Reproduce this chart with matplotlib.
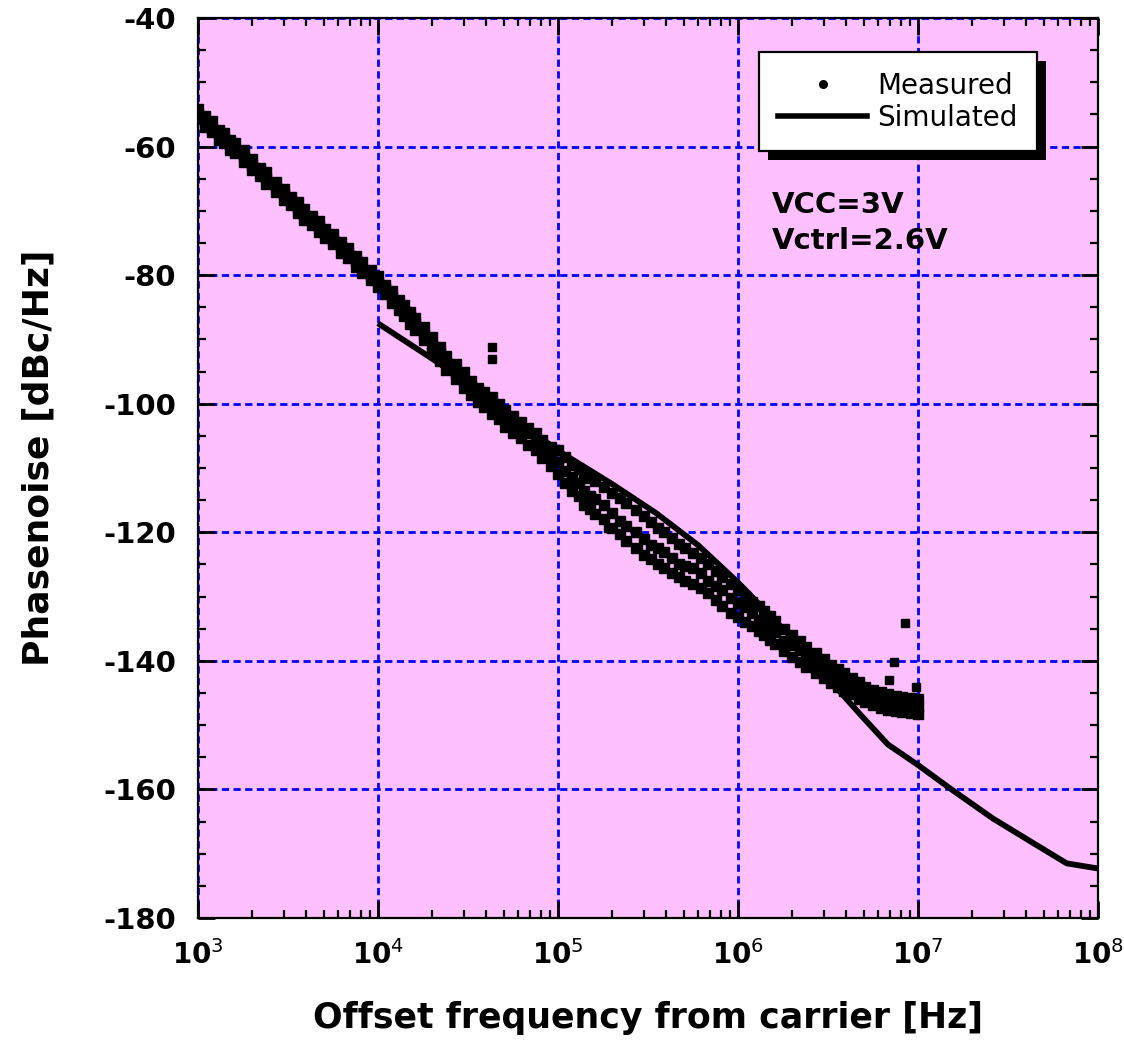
import math
import matplotlib
matplotlib.use('Agg')
import matplotlib.pyplot as plt
from matplotlib.lines import Line2D
from matplotlib.patches import Rectangle
from matplotlib.ticker import FixedLocator, FuncFormatter, MultipleLocator, LogLocator, NullFormatter

plt.rcParams['font.family'] = ['DejaVu Sans']
plt.rcParams['axes.unicode_minus'] = False

# Simulated phase noise (line), 10 kHz .. 100 MHz
f_sim = [1e4, 2e4, 3e4, 5e4, 1e5, 2e5, 3.5e5, 6e5, 1e6, 2e6, 3e6, 4.8e6,
         6.8e6, 1e7, 1.5e7, 2.6e7, 4.4e7, 6.7e7, 1e8]
sim_db = [-87.5, -93.0, -96.3, -101.0, -107.3, -112.5, -117.0, -122.0, -127.8,
          -136.5, -142.0, -148.4, -153.0, -156.2, -159.8, -164.5, -168.4, -171.5, -172.3]

# Measured phase noise (scatter), 1 kHz .. 10 MHz
f_meas = [
    1.0e3, 1.1e3, 1.2e3, 1.3e3, 1.4e3, 1.5e3, 1.6e3, 1.8e3, 2.0e3, 2.2e3, 2.4e3, 2.7e3,
    3.0e3, 3.3e3, 3.6e3, 3.9e3, 4.3e3, 4.7e3, 5.1e3, 5.6e3, 6.2e3, 6.8e3, 7.5e3, 8.2e3, 9.1e3,
    1.0e4, 1.1e4, 1.2e4, 1.3e4, 1.4e4, 1.5e4, 1.6e4, 1.8e4, 2.0e4, 2.2e4, 2.4e4, 2.7e4,
    3.0e4, 3.3e4, 3.6e4, 3.9e4, 4.3e4, 4.7e4, 5.1e4, 5.6e4, 6.2e4, 6.8e4, 7.5e4, 8.2e4, 9.1e4,
    1.0e5, 1.1e5, 1.2e5, 1.3e5, 1.4e5, 1.5e5, 1.6e5, 1.8e5, 2.0e5, 2.2e5, 2.4e5, 2.7e5,
    3.0e5, 3.3e5, 3.6e5, 3.9e5, 4.3e5, 4.7e5, 5.1e5, 5.6e5, 6.2e5, 6.8e5, 7.5e5, 8.2e5, 9.1e5,
    1.0e6, 1.1e6, 1.2e6, 1.3e6, 1.4e6, 1.5e6, 1.6e6, 1.8e6, 2.0e6, 2.2e6, 2.4e6, 2.7e6,
    3.0e6, 3.3e6, 3.6e6, 3.9e6, 4.3e6, 4.7e6, 5.1e6, 5.6e6, 6.2e6, 6.8e6, 7.5e6, 8.2e6, 9.1e6,
    1.0e7]
meas_upper = [
    -54.2, -55.3, -56.0, -57.4, -57.9, -59.0, -59.4, -60.5, -62.0, -63.3, -63.9, -65.5,
    -66.6, -67.8, -68.6, -69.7, -70.8, -71.6, -72.8, -73.6, -74.9, -75.8, -77.1, -78.0, -79.2,
    -80.1, -81.5, -82.5, -83.8, -84.7, -85.8, -86.6, -88.0, -89.6, -91.2, -92.6, -93.8,
    -95.0, -96.4, -97.5, -98.2, -99.0, -100.0, -101.0, -101.9, -102.8, -103.7, -104.5, -105.6, -106.8,
    -107.2, -108.3, -109.5, -110.2, -110.9, -111.6, -112.0, -112.9, -113.9, -114.7, -115.4, -116.6,
    -117.5, -118.4, -119.3, -120.0, -120.9, -121.8, -122.5, -123.2, -124.0, -125.0, -126.0, -127.0, -128.0,
    -129.0, -129.9, -130.8, -131.5, -132.3, -133.0, -133.8, -135.0, -135.9, -136.9, -137.8, -138.8,
    -139.7, -140.6, -141.3, -141.9, -142.7, -143.3, -144.0, -144.5, -144.9, -145.2, -145.5, -145.7, -145.8,
    -146.0]
meas_mid = [
    -55.0, -56.1, -57.3, -58.0, -58.6, -59.6, -60.5, -61.6, -62.8, -63.7, -64.9, -66.4,
    -67.4, -68.3, -69.5, -70.6, -71.5, -72.3, -73.4, -74.6, -75.6, -76.5, -77.8, -79.0, -79.9,
    -81.0, -82.0, -83.4, -84.7, -85.6, -86.4, -87.5, -89.2, -90.8, -92.1, -93.5, -95.2,
    -96.3, -97.4, -98.6, -99.6, -100.2, -101.0, -102.2, -103.2, -103.9, -104.6, -105.8, -107.1, -108.0,
    -109.0, -110.4, -111.4, -112.3, -113.5, -114.4, -114.8, -115.7, -117.0, -118.2, -119.0, -120.0,
    -121.0, -122.0, -122.5, -123.0, -124.0, -124.9, -125.3, -125.6, -126.4, -127.5, -128.3, -129.0, -130.2,
    -131.0, -131.6, -132.6, -133.6, -134.1, -134.6, -135.5, -136.9, -137.6, -138.3, -139.3, -140.5,
    -141.2, -141.8, -142.7, -143.5, -144.0, -144.4, -145.2, -145.9, -146.1, -146.2, -146.6, -147.0, -147.0,
    -147.2]
meas_lower = [
    -55.6, -56.9, -57.8, -58.9, -59.5, -60.6, -61.0, -62.4, -63.7, -64.6, -65.8, -67.0,
    -68.3, -69.1, -70.3, -71.4, -72.2, -73.3, -74.3, -75.1, -76.5, -77.4, -78.7, -79.6, -80.8,
    -81.9, -83.0, -84.3, -85.4, -86.4, -87.6, -88.5, -90.1, -91.9, -93.4, -94.8, -96.1,
    -97.5, -98.7, -99.8, -100.5, -101.6, -102.3, -103.6, -104.5, -105.3, -106.4, -107.2, -108.5, -109.7,
    -111.0, -112.3, -113.6, -114.4, -115.8, -116.4, -117.1, -118.0, -119.3, -120.2, -121.4, -122.5,
    -123.5, -124.1, -124.9, -125.6, -126.3, -126.9, -127.6, -128.1, -128.6, -129.4, -130.5, -131.4, -132.5,
    -133.2, -133.9, -134.6, -135.3, -136.0, -136.8, -137.3, -138.4, -139.4, -140.2, -140.9, -141.9,
    -142.6, -143.4, -144.1, -144.7, -145.2, -145.9, -146.4, -146.9, -147.3, -147.6, -147.8, -148.0, -148.1,
    -148.2]
# stray measured points
f_out = [4.3e4, 4.3e4, 1.2e5, 1.9e5, 2.8e5, 6.9e6, 7.4e6, 8.5e6, 9.8e6]
db_out = [-91.2, -93.0, -113.0, -119.4, -122.4, -143.0, -140.2, -134.1, -144.1]

fig = plt.figure(figsize=(11.24, 10.46), dpi=100)
ax = fig.add_axes([198/1124, 128/1046, 900/1124, 900/1046])
ax.set_facecolor('#FFC0FF')

ax.plot(f_sim, sim_db, color='black', lw=4.2, solid_capstyle='butt', zorder=3)
for vals in (meas_upper, meas_mid, meas_lower):
    ax.plot(f_meas, vals, ls='none', marker='s', ms=7, color='black', zorder=4)
ax.plot(f_out, db_out, ls='none', marker='s', ms=5.5, color='black', zorder=4)

ax.set_xscale('log')
ax.set_xlim(1e3, 1e8)
ax.set_ylim(-180, -40)
ax.xaxis.set_major_locator(FixedLocator([1e3, 1e4, 1e5, 1e6, 1e7, 1e8]))
ax.xaxis.set_minor_locator(LogLocator(base=10, subs=range(2, 10), numticks=20))
ax.xaxis.set_minor_formatter(NullFormatter())
ax.xaxis.set_major_formatter(FuncFormatter(
    lambda v, p: r'$\mathbf{10}^{\mathrm{%d}}$' % round(math.log10(v))))
ax.yaxis.set_major_locator(MultipleLocator(20))
ax.yaxis.set_minor_locator(MultipleLocator(5))

ax.tick_params(which='both', direction='in', top=True, right=True, width=2, color='black')
ax.tick_params(which='major', length=12, labelsize=21, pad=16)
ax.tick_params(axis='x', which='major', labelsize=20)
ax.tick_params(which='minor', length=6, width=1.6)
for lab in ax.get_xticklabels() + ax.get_yticklabels():
    lab.set_fontweight('bold')
for sp in ax.spines.values():
    sp.set_linewidth(1.6)

ax.set_axisbelow(True)
ax.grid(which='major', color='#0000FF', linestyle=(0, (2.6, 1.6)), linewidth=2)

ax.set_xlabel('Offset frequency from carrier [Hz]', fontsize=25, fontweight='bold')
ax.set_ylabel('Phasenoise [dBc/Hz]', fontsize=26, fontweight='bold')
ax.xaxis.set_label_coords(0.5, -0.092)
ax.yaxis.set_label_coords(-0.158, 0.511)

ax.text(0.638, 0.783, 'VCC=3V', transform=ax.transAxes, fontsize=21,
        fontweight='bold', va='baseline')
ax.text(0.638, 0.743, 'Vctrl=2.6V', transform=ax.transAxes, fontsize=21,
        fontweight='bold', va='baseline')

handles = [Line2D([], [], ls='none', marker='o', ms=5.5, color='black'),
           Line2D([], [], color='black', lw=4)]
leg = ax.legend(handles, ['Measured', 'Simulated'], loc='upper right',
                bbox_to_anchor=(0.932, 0.962), fontsize=20, frameon=True,
                fancybox=False, edgecolor='black', facecolor='white', framealpha=1,
                borderpad=0.7, handlelength=3.2, handletextpad=0.35,
                labelspacing=0.15, borderaxespad=0)
leg.get_frame().set_linewidth(1.6)
leg.set_zorder(6)

# solid black drop shadow behind the legend box
fig.canvas.draw()
bb = leg.get_window_extent()
inv = ax.transAxes.inverted()
(x0, y0), (x1, y1) = inv.transform([[bb.x0 + 9, bb.y0 - 9], [bb.x1 + 9, bb.y1 - 9]])
ax.add_patch(Rectangle((x0, y0), x1 - x0, y1 - y0, transform=ax.transAxes,
                       facecolor='black', edgecolor='none', zorder=5.5, clip_on=False))

fig.savefig('out.png', dpi=100, facecolor='white')
